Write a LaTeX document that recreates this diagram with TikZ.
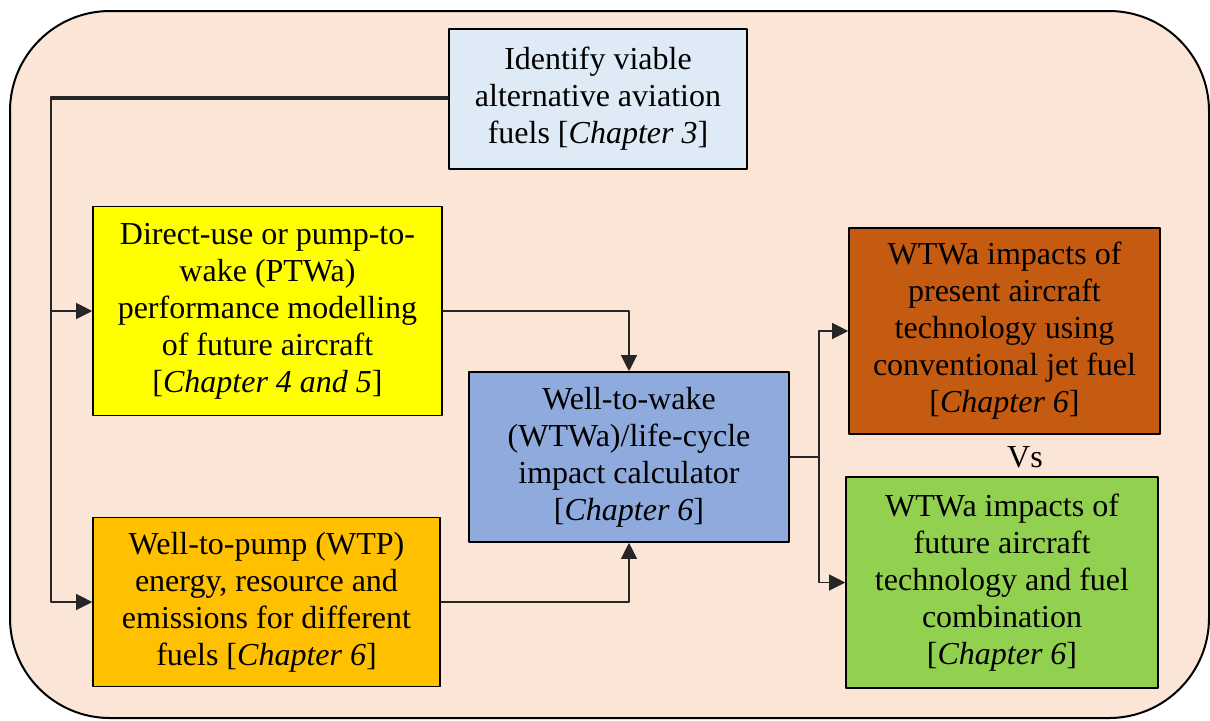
\documentclass[tikz,border=0pt]{standalone}
\usepackage{fontspec}
\setmainfont{LiberationSerif}[Extension=.ttf,UprightFont=*-Regular,ItalicFont=*-Italic,BoldFont=*-Bold]
\usetikzlibrary{arrows.meta}
\definecolor{bgpeach}{HTML}{FBE5D6}
\definecolor{fuelblue}{HTML}{DEEBF7}
\definecolor{ptwayellow}{HTML}{FFFF00}
\definecolor{wtporange}{HTML}{FFC000}
\definecolor{wtwablue}{HTML}{8FAADC}
\definecolor{presentbrown}{HTML}{C55A11}
\definecolor{futuregreen}{HTML}{92D050}

\begin{document}
\begin{tikzpicture}[line cap=round,line join=round,>={Triangle[length=8pt,width=8pt]},x=0.5pt,y=-0.5pt,
		stage/.style={draw=black,line width=0.8pt,align=center,inner sep=0pt,font=\fontsize{16}{18.5}\selectfont},
		link/.style={line width=0.55pt,draw=black!85}]
	\useasboundingbox (0,0) rectangle (1210,720);
	\draw[line width=1pt,fill=bgpeach,rounded corners=50pt] (10,11) rectangle (1209,718);
	% boxes
	\node[stage,fill=fuelblue,minimum width=149pt,minimum height=70pt] (fuels) at (598,99) {Identify viable\\alternative aviation\\fuels [\textit{Chapter 3}]};
	\node[stage,fill=ptwayellow,minimum width=174.5pt,minimum height=104.5pt] (ptwa) at (267.5,311) {Direct-use or pump-to-\\wake (PTWa)\\performance modelling\\of future aircraft\\{[}\textit{Chapter 4 and 5}{]}};
	\node[stage,fill=wtporange,minimum width=173.5pt,minimum height=84.5pt] (wtp) at (266.5,602) {Well-to-pump (WTP)\\energy, resource and\\emissions for different\\fuels [\textit{Chapter 6}]};
	\node[stage,fill=wtwablue,minimum width=160pt,minimum height=85pt] (wtwa) at (629,457) {Well-to-wake\\(WTWa)/life-cycle\\impact calculator\\{[}\textit{Chapter 6}{]}};
	\node[stage,fill=presentbrown,minimum width=155.5pt,minimum height=103pt] (present) at (1004.5,331) {WTWa impacts of\\present aircraft\\technology using\\conventional jet fuel\\{[}\textit{Chapter 6}{]}};
	\node[stage,fill=futuregreen,minimum width=156pt,minimum height=105.5pt] (future) at (1002,582.5) {WTWa impacts of\\future aircraft\\technology and fuel\\combination\\{[}\textit{Chapter 6}{]}};
	\node[font=\fontsize{16}{18.5}\selectfont] (vs) at (1025,457) {Vs};
	% connectors
	\coordinate (trunk) at (51,98);
	\coordinate (split) at (819,457);
	\draw[link,->] ([yshift=1pt]fuels.west) -| (trunk |- ptwa.west) -- (ptwa.west);
	\draw[link,->] (fuels.west) -| (trunk |- wtp.west) -- (wtp.west);
	\draw[link,->] (ptwa.east) -| (wtwa.north);
	\draw[link,->] (wtp.east) -| (wtwa.south);
	\draw[link,->] (wtwa.east) -- (split) |- (present.west);
	\draw[link,->] (split) |- (future.west);
\end{tikzpicture}
\end{document}
